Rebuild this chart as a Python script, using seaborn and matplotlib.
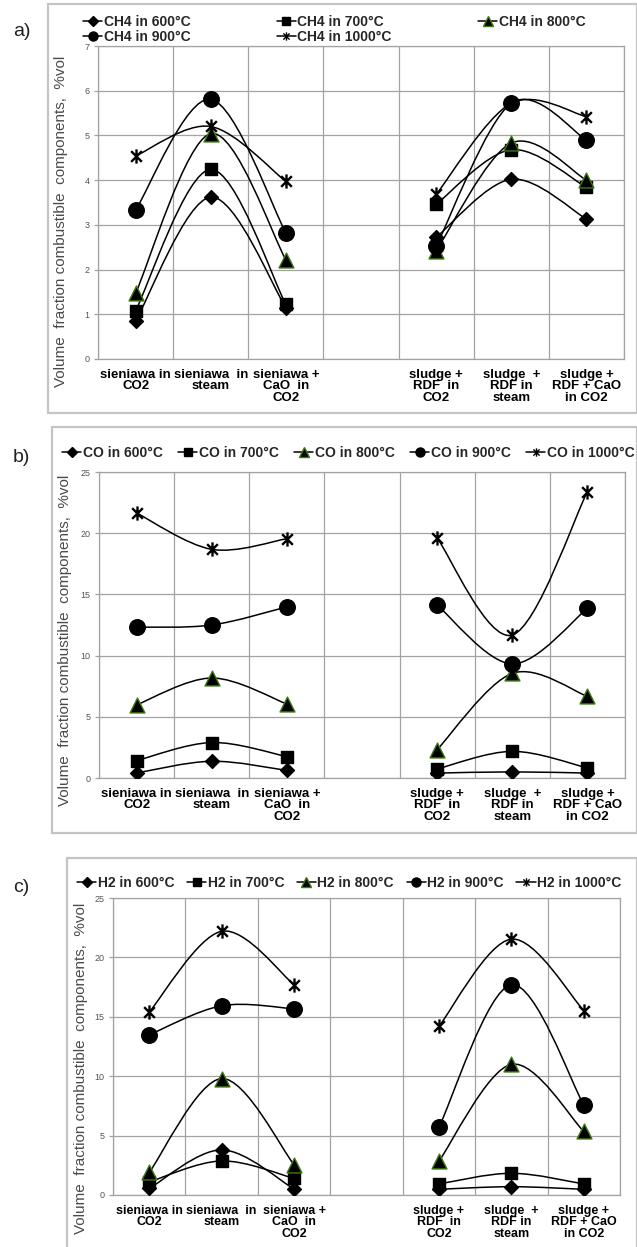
import numpy as np
import pandas as pd
import seaborn as sns
import matplotlib.pyplot as plt
from matplotlib.path import Path
from matplotlib.patches import PathPatch, Rectangle
from matplotlib.lines import Line2D

# categories (slot 4 is an empty gap between the two fuel groups)
categories = ["sieniawa in\nCO2", "sieniawa  in\nsteam", "sieniawa +\nCaO  in\nCO2", "",
              "sludge +\nRDF  in\nCO2", "sludge  +\nRDF in\nsteam", "sludge +\nRDF + CaO\nin CO2"]
temps = ["600°C", "700°C", "800°C", "900°C", "1000°C"]
nan = np.nan

# a) CH4, %vol
ch4_600 = [0.85, 3.62, 1.15, nan, 2.72, 4.02, 3.13]
ch4_700 = [1.08, 4.24, 1.22, nan, 3.46, 4.68, 3.84]
ch4_800 = [1.47, 5.04, 2.22, nan, 2.42, 4.83, 4.00]
ch4_900 = [3.33, 5.81, 2.82, nan, 2.52, 5.72, 4.90]
ch4_1000 = [4.54, 5.20, 3.97, nan, 3.68, 5.72, 5.42]

# b) CO, %vol
co_600 = [0.41, 1.37, 0.62, nan, 0.40, 0.50, 0.40]
co_700 = [1.42, 2.90, 1.75, nan, 0.74, 2.18, 0.82]
co_800 = [5.98, 8.17, 6.05, nan, 2.32, 8.55, 6.67]
co_900 = [12.32, 12.50, 13.98, nan, 14.12, 9.32, 13.86]
co_1000 = [21.65, 18.68, 19.55, nan, 19.60, 11.68, 23.40]

# c) H2, %vol
h2_600 = [0.55, 3.80, 0.50, nan, 0.48, 0.70, 0.48]
h2_700 = [1.10, 2.87, 1.40, nan, 0.93, 1.83, 0.93]
h2_800 = [1.90, 9.80, 2.55, nan, 2.85, 11.00, 5.35]
h2_900 = [13.48, 15.93, 15.67, nan, 5.70, 17.70, 7.58]
h2_1000 = [15.40, 22.20, 17.70, nan, 14.20, 21.54, 15.53]

sns.set_theme(style="white")
plt.rcParams['font.family'] = ['Liberation Sans', 'DejaVu Sans']

W, H = 637, 1247
fig = plt.figure(figsize=(W / 100, H / 100), dpi=100)


def box(x0, y0, x1, y1):
    # pixel box, top-left origin -> figure fraction rect
    return [x0 / W, 1 - y1 / H, (x1 - x0) / W, (y1 - y0) / H]


star = Path([(0, -1), (0, 1), (-0.75, -0.75), (0.75, 0.75), (-0.75, 0.75), (0.75, -0.75)],
            [Path.MOVETO, Path.LINETO, Path.MOVETO, Path.LINETO, Path.MOVETO, Path.LINETO])
markers = ['D', 's', '^', 'o', star]
sizes = [50, 82, 115, 125, 105]
edges = ['black', 'black', '#3d7a10', 'black', 'black']
grid_c = '#a3a3a3'


def smooth(xs, ys):
    # excel-like smoothed line through the points of one group
    p = np.column_stack([xs, ys])
    verts, codes = [p[0]], [Path.MOVETO]
    for i in range(len(p) - 1):
        p0 = p[i - 1] if i > 0 else p[i]
        p3 = p[i + 2] if i + 2 < len(p) else p[i + 1]
        verts += [p[i] + (p[i + 1] - p0) / 6, p[i + 1] - (p3 - p[i]) / 6, p[i + 1]]
        codes += [Path.CURVE4] * 3
    return Path(verts, codes)


panels = [
    dict(gas="CH4", series=[ch4_600, ch4_700, ch4_800, ch4_900, ch4_1000], ymax=7, step=1,
         ax=(98, 46, 624, 359), frame=(48, 4, 637, 413), tag=(13, 32),
         leg=(83, 15), ncol=3, colsp=6.2, ylab=(-0.057, 0.44), xfs=9.5),
    dict(gas="CO", series=[co_600, co_700, co_800, co_900, co_1000], ymax=25, step=5,
         ax=(99, 472, 625, 778), frame=(52, 427, 637, 833), tag=(13, 457),
         leg=(62, 446), ncol=5, colsp=1.1, ylab=(-0.051, 0.45), xfs=9.5),
    dict(gas="H2", series=[h2_600, h2_700, h2_800, h2_900, h2_1000], ymax=25, step=5,
         ax=(113, 898, 620, 1195), frame=(67, 858, 637, 1250), tag=(13, 887),
         leg=(77, 876), ncol=5, colsp=0.9, ylab=(-0.049, 0.425), xfs=9),
]

for k, pn in enumerate(panels):
    fx0, fy0, fx1, fy1 = pn['frame']
    fig.patches.append(Rectangle((fx0 / W, 1 - fy1 / H), (fx1 - fx0) / W, (fy1 - fy0) / H,
                                 transform=fig.transFigure, fill=False,
                                 edgecolor='#c4c4c4', lw=1.6, zorder=0))
    fig.text(pn['tag'][0] / W, 1 - pn['tag'][1] / H, "abc"[k] + ")",
             fontsize=14, ha='left', va='center', color='#222222')

    ax = fig.add_axes(box(*pn['ax']))
    rows = []
    for t, vals in zip(temps, pn['series']):
        for slot, v in enumerate(vals):
            if not np.isnan(v):
                rows.append(dict(slot=slot, value=v, series=f"{pn['gas']} in {t}"))
    df = pd.DataFrame(rows)

    handles = []
    for i, t in enumerate(temps):
        name = f"{pn['gas']} in {t}"
        sub = df[df.series == name]
        for grp in (sub[sub.slot < 3], sub[sub.slot > 3]):
            ax.add_patch(PathPatch(smooth(grp.slot.values, grp.value.values),
                                   facecolor='none', edgecolor='black', lw=1.1, zorder=2 + i * 0.1))
        sns.scatterplot(data=sub, x='slot', y='value', marker=markers[i], s=sizes[i],
                        color='black', edgecolor=edges[i], linewidth=1.0 if i != 4 else 1.7,
                        zorder=3 + i * 0.1, ax=ax, legend=False)
        handles.append(Line2D([0], [0], color='black', lw=1.1, marker=markers[i],
                              markersize=[5, 6, 6.5, 6.5, 6][i], markerfacecolor='black',
                              markeredgecolor=edges[i], markeredgewidth=1.0, label=name))

    ax.set_xlim(-0.5, 6.5)
    ax.set_ylim(0, pn['ymax'])
    ax.set_xticks(range(7))
    ax.set_xticklabels(categories, fontsize=pn['xfs'], fontweight='bold', color='black')
    for lab in ax.get_xticklabels():
        lab.set_linespacing(0.95)
    ax.set_xticks(np.arange(-0.5, 7, 1), minor=True)
    ax.set_yticks(np.arange(0, pn['ymax'] + 0.1, pn['step']))
    ax.tick_params(axis='x', which='major', length=0, pad=7)
    ax.tick_params(axis='x', which='minor', length=4, color=grid_c, width=0.9, direction='out')
    ax.tick_params(axis='y', length=3, color=grid_c, width=0.9, labelsize=6.5,
                   labelcolor='#555555', pad=3, left=True)
    ax.grid(True, axis='y', color=grid_c, lw=0.9)
    ax.grid(True, axis='x', which='minor', color=grid_c, lw=0.9)
    ax.grid(False, axis='x', which='major')
    for s in ax.spines.values():
        s.set_color(grid_c)
        s.set_linewidth(0.9)
    ax.set_xlabel("")
    ax.set_ylabel("Volume  fraction combustible  components,  %vol", fontsize=11,
                  color='#4a4a4a')
    ax.yaxis.set_label_coords(*pn['ylab'])
    ax.set_facecolor('white')

    if pn['ncol'] == 3:
        # rows read 600 700 800 / 900 1000
        handles = [handles[j] for j in (0, 3, 1, 4, 2)]
    fig.legend(handles=handles, loc='upper left',
               bbox_to_anchor=(pn['leg'][0] / W, 1 - pn['leg'][1] / H),
               ncol=pn['ncol'], frameon=False, handlelength=1.4, handletextpad=0.1,
               columnspacing=pn['colsp'], labelspacing=0.05, borderpad=0, borderaxespad=0,
               prop=dict(size=10, weight='bold'))

fig.savefig("out.png", dpi=100)
